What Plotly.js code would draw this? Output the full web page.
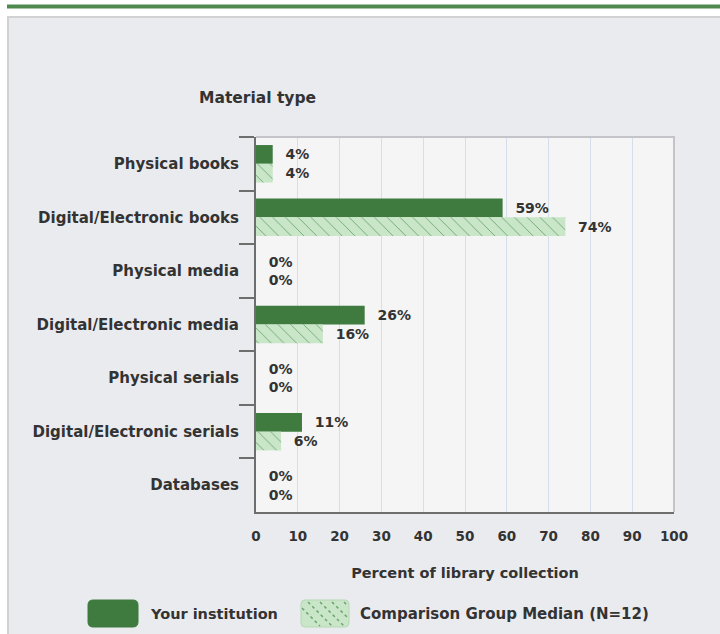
<!DOCTYPE html>
<html>
<head>
<meta charset="utf-8">
<script src="https://cdn.plot.ly/plotly-3.0.1.min.js"></script>
<style>html,body{margin:0;padding:0;background:#fff;}#chart{width:720px;height:634px;}</style>
</head>
<body>
<div id="chart"></div>
<script>
const categories = ["Physical books","Digital/Electronic books","Physical media","Digital/Electronic media","Physical serials","Digital/Electronic serials","Databases"];
const yourInstitution = [4, 59, 0, 26, 0, 11, 0];
const comparisonMedian = [4, 74, 0, 16, 0, 6, 0];
const seriesNames = ["Your institution", "Comparison Group Median (N=12)"];
const xTicks = [0,10,20,30,40,50,60,70,80,90,100];

const W = 720, H = 634;
const M = {l: 256, r: 46, t: 137, b: 122};
const PW = W - M.l - M.r, PH = H - M.t - M.b;
const px = x => (x - M.l) / PW;
const py = y => (H - M.b - y) / PH;

const FONT = "DejaVu Sans, Verdana, sans-serif";
const TXT = "#333333";
const DARK = "#3F7B3F";
const LIGHT = "#C9E6C9";

const traces = [
  {
    type: "bar", orientation: "h", name: seriesNames[0],
    y: categories, x: yourInstitution,
    marker: {color: DARK, line: {width: 0}},
    text: yourInstitution.map(v => v + "%"),
    texttemplate: "\u00a0\u00a0%{text}",
    textposition: "outside", constraintext: "none", cliponaxis: false,
    textfont: {family: FONT, size: 14, color: TXT, weight: "bold"},
    hoverinfo: "skip"
  },
  {
    type: "bar", orientation: "h", name: seriesNames[1],
    y: categories, x: comparisonMedian,
    marker: {color: LIGHT, line: {width: 0},
      pattern: {shape: "\\", fgcolor: "#6FA66F", bgcolor: LIGHT, size: 9, solidity: 0.1, fillmode: "replace"}},
    text: comparisonMedian.map(v => v + "%"),
    texttemplate: "\u00a0\u00a0%{text}",
    textposition: "outside", constraintext: "none", cliponaxis: false,
    textfont: {family: FONT, size: 14, color: TXT, weight: "bold"},
    hoverinfo: "skip"
  }
];

// rounded rect path in pixel space -> paper
function rrect(x0, y0, x1, y1, r) {
  const P = (x, y) => px(x) + " " + py(y);
  return "M " + P(x0 + r, y0) + " L " + P(x1 - r, y0) + " Q " + P(x1, y0) + " " + P(x1, y0 + r) +
    " L " + P(x1, y1 - r) + " Q " + P(x1, y1) + " " + P(x1 - r, y1) +
    " L " + P(x0 + r, y1) + " Q " + P(x0, y1) + " " + P(x0, y1 - r) +
    " L " + P(x0, y0 + r) + " Q " + P(x0, y0) + " " + P(x0 + r, y0) + " Z";
}

// legend swatch pattern lines (decoration)
const lgPattern = [];
for (let k = 0; k < 5; k++) {
  const x0 = 296 + k * 12;
  lgPattern.push({type: "line", xref: "paper", yref: "paper",
    x0: px(Math.max(x0, 302)), y0: py(602 + Math.max(0, 302 - x0)),
    x1: px(Math.min(x0 + 24, 348)), y1: py(626 - Math.max(0, x0 + 24 - 348)),
    line: {color: "#6FA66F", width: 1.5, dash: "dot"}, layer: "above"});
}

const shapes = [
  {type: "rect", xref: "paper", yref: "paper", x0: px(0), x1: px(W), y0: py(0), y1: py(16), fillcolor: "#ffffff", line: {width: 0}, layer: "below"},
  {type: "rect", xref: "paper", yref: "paper", x0: px(0), x1: px(7), y0: py(0), y1: py(H), fillcolor: "#ffffff", line: {width: 0}, layer: "below"},
  {type: "rect", xref: "paper", yref: "paper", x0: px(7), x1: px(W), y0: py(4.5), y1: py(8.5), fillcolor: "#4E8A4E", line: {width: 0}, layer: "below"},
  {type: "line", xref: "paper", yref: "paper", x0: px(7), x1: px(W), y0: py(17), y1: py(17), line: {color: "#D2D2D4", width: 2}, layer: "below"},
  {type: "line", xref: "paper", yref: "paper", x0: px(8), x1: px(8), y0: py(16), y1: py(H), line: {color: "#D2D2D4", width: 2}, layer: "below"},
  // plot top/right border
  {type: "path", xref: "paper", yref: "paper", path: "M 0 1 L 1 1 L 1 0", line: {color: "#C4C4C8", width: 2}, layer: "above"},
  // legend swatches
  {type: "path", xref: "paper", yref: "paper", path: rrect(88, 600, 138, 627, 5), fillcolor: DARK, line: {color: DARK, width: 1}, layer: "above"},
  {type: "path", xref: "paper", yref: "paper", path: rrect(301, 600, 349, 627, 4), fillcolor: LIGHT, line: {color: "#B5D8B5", width: 1}, layer: "above"}
].concat(lgPattern);

const annotations = [
  {xref: "paper", yref: "paper", x: px(257), y: py(98), text: "Material type", showarrow: false,
    xanchor: "center", yanchor: "middle", font: {family: FONT, size: 15.5, color: TXT, weight: "bold"}},
  {xref: "paper", yref: "paper", x: px(148), y: py(614), text: seriesNames[0], showarrow: false,
    xanchor: "left", yanchor: "middle", font: {family: FONT, size: 14.5, color: TXT, weight: "bold"}},
  {xref: "paper", yref: "paper", x: px(358), y: py(614), text: seriesNames[1], showarrow: false,
    xanchor: "left", yanchor: "middle", font: {family: FONT, size: 15, color: TXT, weight: "bold"}}
];

const layout = {
  width: W, height: H,
  margin: M,
  paper_bgcolor: "#EAEBEF",
  plot_bgcolor: "#F5F5F5",
  barmode: "group", bargap: 0.3, bargroupgap: 0,
  showlegend: false,
  font: {family: FONT, color: TXT},
  xaxis: {
    range: [0, 100], tickvals: xTicks, ticktext: xTicks.map(String),
    showgrid: true, gridcolor: "#D6DEEC", gridwidth: 1,
    zeroline: false, showline: true, linecolor: "#6E6E6E", linewidth: 2,
    ticks: "outside", ticklen: 11, tickcolor: "rgba(0,0,0,0)",
    tickfont: {family: FONT, size: 13.5, color: TXT, weight: "bold"},
    title: {text: "Percent of library collection", standoff: 25,
      font: {family: FONT, size: 14.5, color: TXT, weight: "bold"}},
    automargin: false, fixedrange: true
  },
  yaxis: {
    type: "category", autorange: "reversed",
    showgrid: false, zeroline: false, showline: true, linecolor: "#6E6E6E", linewidth: 2,
    ticks: "outside", tickson: "boundaries", ticklen: 15, tickcolor: "#6E6E6E", tickwidth: 2,
    ticklabelstandoff: 12,
    tickfont: {family: FONT, size: 15, color: TXT, weight: "bold"},
    automargin: false, fixedrange: true
  },
  shapes: shapes,
  annotations: annotations
};

Plotly.newPlot("chart", traces, layout, {staticPlot: true, displayModeBar: false});
</script>
</body>
</html>
